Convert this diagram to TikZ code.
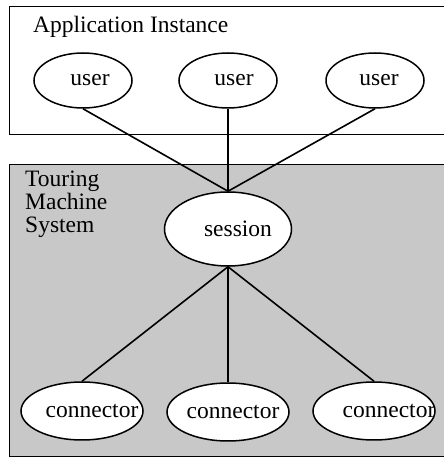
\documentclass[tikz,border=0pt]{standalone}
\usepackage{fontspec}
\setmainfont{Liberation Serif}
\usetikzlibrary{shapes.geometric}
\definecolor{tmsgray}{RGB}{200,200,200}
\newcommand{\offtext}[2]{\makebox[0pt]{\hspace*{#1}#2}}
\begin{document}
\begin{tikzpicture}[x=1pt,y=1pt,
  every node/.style={font=\fontsize{23.5}{23}\selectfont},
  blob/.style={ellipse, draw, line width=1.5pt, fill=white, inner sep=0pt},
  userblob/.style={blob, minimum width=98pt, minimum height=55pt},
  connblob/.style={blob, minimum width=122pt, minimum height=58pt},
  link/.style={line width=1.6pt},
  frame/.style={line width=1pt}]
\useasboundingbox (0,0) rectangle (444,466);
% application instance box
\draw[frame] (444,459) -- (9,459) -- (9,331) -- (444,331);
\node[anchor=base west, inner sep=0pt] (apptitle) at (33,433) {Application Instance};
% touring machine system box
\fill[tmsgray] (9,9) rectangle (444,301);
\draw[frame] (444,301) -- (9,301) -- (9,9) -- (444,9);
\node[anchor=base west, inner sep=0pt] (tms1) at (25,279) {Touring};
\node[anchor=base west, inner sep=0pt] (tms2) at (25,256) {Machine};
\node[anchor=base west, inner sep=0pt] (tms3) at (25,233) {System};
% nodes
\node[userblob] (u1) at (83,385.5) {\offtext{14pt}{user}};
\node[userblob] (u2) at (228,385.5) {\offtext{12pt}{user}};
\node[userblob] (u3) at (375,385.5) {\offtext{8pt}{user}};
\node[blob, minimum width=127pt, minimum height=74pt] (s) at (228,237) {\offtext{20pt}{session}};
\node[connblob] (c1) at (82,55) {\offtext{20pt}{connector}};
\node[connblob] (c2) at (228,54) {\offtext{10pt}{connector}};
\node[connblob] (c3) at (374,55) {\offtext{30pt}{connector}};
% connectors
\draw[link] (u1.south) -- (s.north);
\draw[link] (u2.south) -- (s.north);
\draw[link] (u3.south) -- (s.north);
\draw[link] (s.south) -- (c1.north);
\draw[link] (s.south) -- (c2.north);
\draw[link] (s.south) -- (c3.north);
\end{tikzpicture}
\end{document}
